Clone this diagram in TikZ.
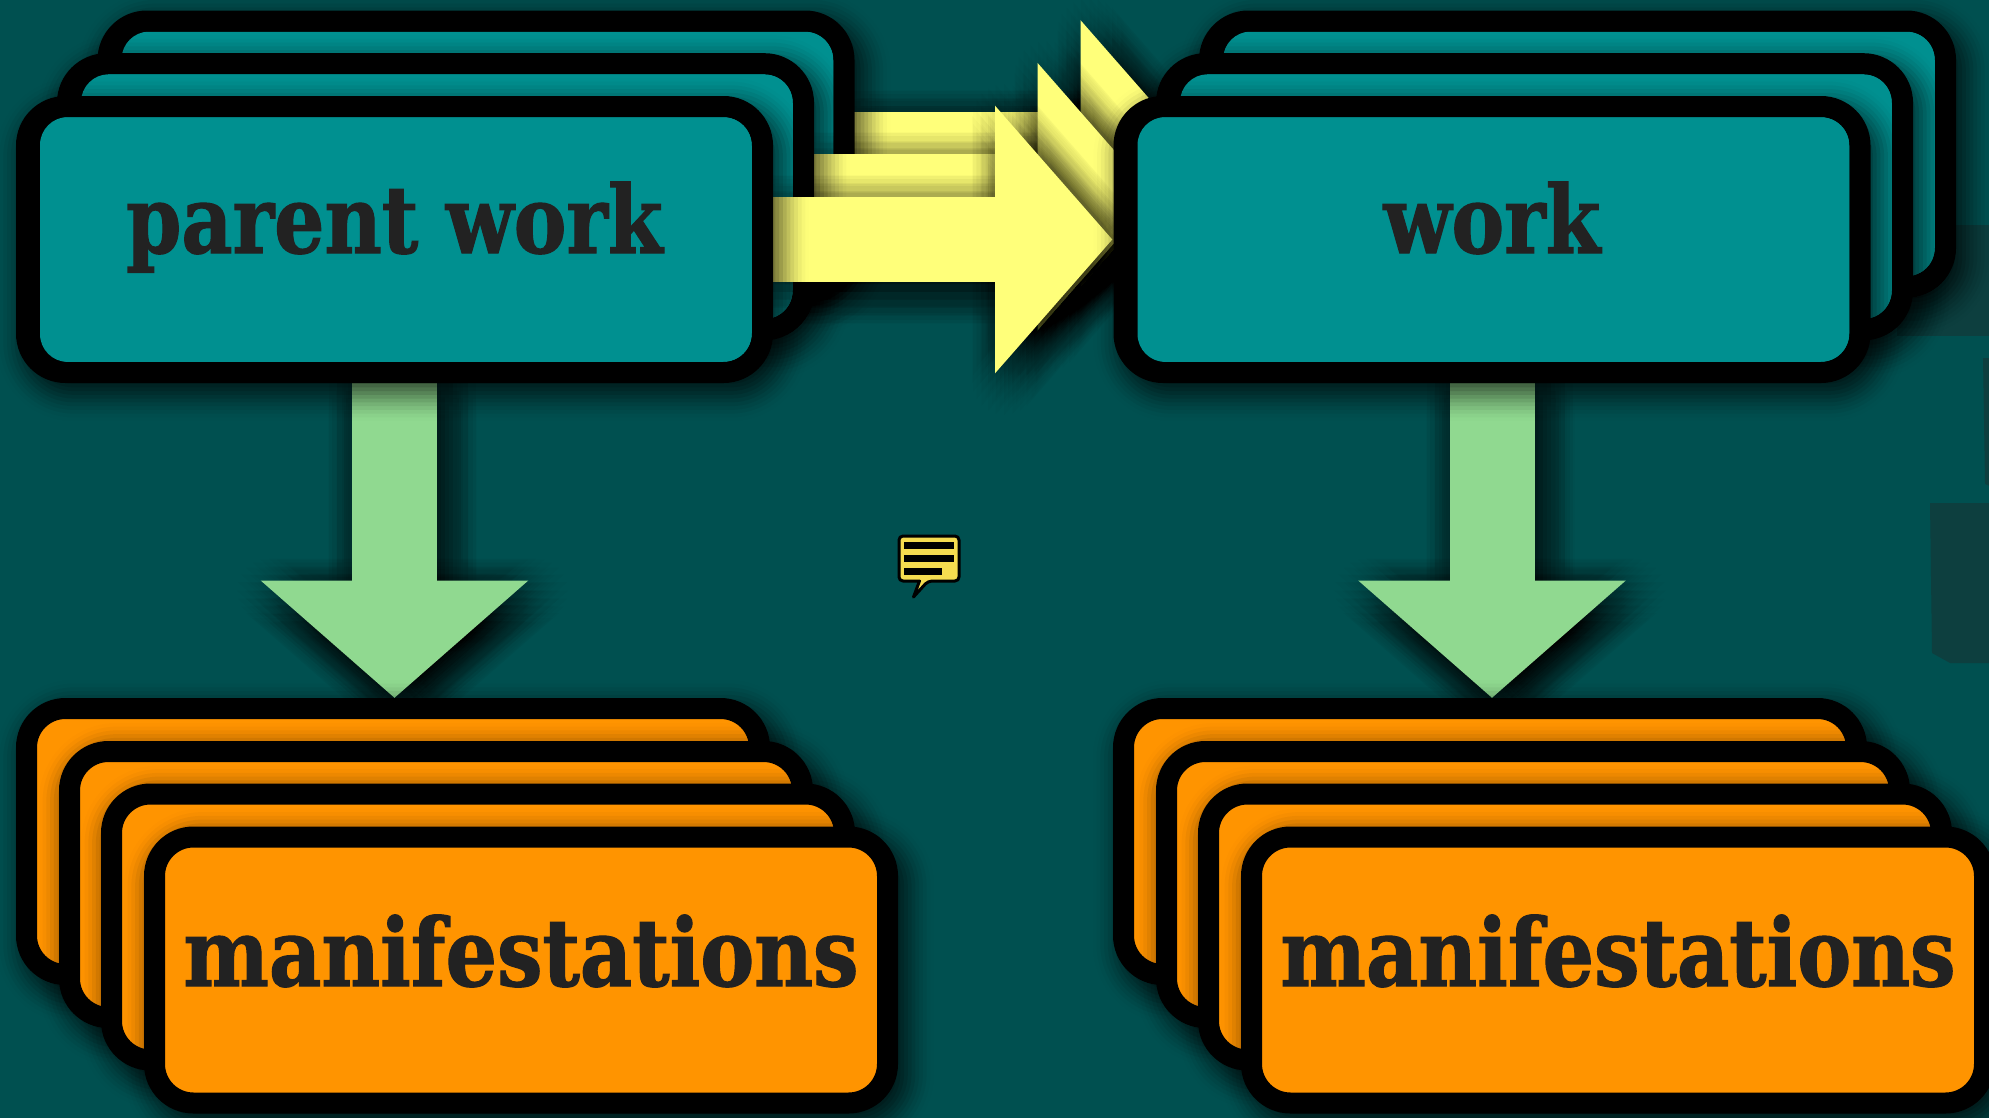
\documentclass[tikz,border=0pt]{standalone}
\usepackage{fontspec}
\usetikzlibrary{arrows.meta}
\newfontfamily\labfont[FakeStretch=0.86,BoldFeatures={FakeBold=1.2}]{DejaVu Serif}
\newfontfamily\labfontb[FakeStretch=0.84,BoldFeatures={FakeBold=1.2}]{DejaVu Serif}
\definecolor{bgc}{HTML}{005050}
\definecolor{patchc}{HTML}{0D3F3F}
\definecolor{tealc}{HTML}{009090}
\definecolor{orangec}{HTML}{FF9400}
\definecolor{yelc}{HTML}{FFFF7A}
\definecolor{greenc}{HTML}{90D990}
\definecolor{txtc}{HTML}{222222}
\definecolor{iconc}{HTML}{F5DC50}
\pgfdeclarelayer{lgreen}\pgfdeclarelayer{lmani}
\pgfdeclarelayer{la3}\pgfdeclarelayer{lb3}
\pgfdeclarelayer{la2}\pgfdeclarelayer{lb2}
\pgfdeclarelayer{la1}\pgfdeclarelayer{lb1}
\pgfsetlayers{lgreen,lmani,la3,lb3,la2,lb2,la1,lb1,main}
\tikzset{
  stackbox/.style={draw=black,line width=21pt,rounded corners=39pt,minimum height=266pt,inner sep=0pt,
     text=txtc,align=center},
  workbox/.style={stackbox,fill=black,minimum width=736pt,text height=49pt,text depth=22pt,font=\labfontb\bfseries\fontsize{94}{94}\selectfont,
     path picture={\fill[tealc,rounded corners=28pt] ([shift={(13.5pt,-10.5pt)}]path picture bounding box.north west) rectangle ([shift={(-10.5pt,10.5pt)}]path picture bounding box.south east);}},
  manibox/.style={stackbox,fill=orangec,minimum width=733pt,text height=52pt,text depth=20pt,font=\labfont\bfseries\fontsize{94}{94}\selectfont},
  yelarrow/.style={line width=85pt,draw=yelc,shorten <=-10pt,shorten >=1pt,-{Triangle[length=117.5pt,width=261pt,fill=yelc]}},
  grnarrow/.style={line width=85pt,draw=greenc,shorten <=-10pt,-{Triangle[length=117.5pt,width=261pt,fill=greenc]}},
  shadarrow/.style={line width=85pt,draw=black,opacity=0.02,shorten <=-10pt,-{Triangle[length=117.5pt,width=261pt,fill=black]}},
}
% a box of a stack, with its soft shadow: style, half width, name, x, y, text
\newcommand{\stackitem}[6]{%
  \foreach \k in {1,...,16}{%
    \pgfmathsetmacro{\xa}{\k/16}%
    \pgfmathsetmacro{\xb}{(\k-1)/16}%
    \pgfmathsetmacro{\ta}{1-0.75*\xa*\xa*(3-2*\xa)}%
    \pgfmathsetmacro{\tb}{1-0.75*\xb*\xb*(3-2*\xb)}%
    \pgfmathsetmacro{\al}{1-\ta/\tb}%
    \pgfmathsetmacro{\e}{30-60*(\k-0.5)/16}%
    \pgfmathsetmacro{\rad}{max(50+\e,4)}%
    \fill[black,opacity=\al,rounded corners=\rad pt]
      ({#4+8-#2-\e},{#5+10-143.5-\e}) rectangle ({#4+8+#2+\e},{#5+10+143.5+\e});
  }%
  \node[#1] (#3) at (#4,#5) {#6};}
% soft arrow shadow: start and end
\newcommand{\arrowshadow}[2]{%
  \draw[shadarrow] ([shift={(8,10)}]#1) -- ([shift={(8,10)}]#2);
  \foreach \rr/\nn in {8/6,16/12,24/18,32/24}{%
    \foreach \i in {1,...,\nn}{%
      \pgfmathsetmacro{\aa}{360*\i/\nn}%
      \draw[shadarrow] ([shift={({8+\rr*cos(\aa)},{10+\rr*sin(\aa)})}]#1) -- ([shift={({8+\rr*cos(\aa)},{10+\rr*sin(\aa)})}]#2);
    }}}
\begin{document}
\begin{tikzpicture}[x=1pt,y=-1pt]
\useasboundingbox (0,0) rectangle (1989,1117);
\begin{pgfonlayer}{lgreen}
\fill[bgc] (-3,-3) rectangle (1992,1120);
\fill[patchc] (1897,336) -- (1897,225) -- (1992,225) -- (1992,336) -- cycle;
\fill[patchc] (1983,358) -- (1992,358) -- (1992,487) -- (1985,484) -- cycle;
\fill[patchc] (1930,503) -- (1992,503) -- (1992,663) -- (1950,663) -- (1932,653) -- cycle;
\end{pgfonlayer}
% manifestations
\begin{pgfonlayer}{lmani}
\stackitem{manibox}{377}{ma1}{393}{841.5}{}
\stackitem{manibox}{377}{ma2}{436}{884.5}{}
\stackitem{manibox}{377}{ma3}{478}{927}{}
\stackitem{manibox}{377}{ma4}{521}{970}{manifestations}
\stackitem{manibox}{377}{mb1}{1490}{841.5}{}
\stackitem{manibox}{377}{mb2}{1533}{884.5}{}
\stackitem{manibox}{377}{mb3}{1575}{927}{}
\stackitem{manibox}{377}{mb4}{1618}{970}{manifestations}
\end{pgfonlayer}
% parent work stack
\begin{pgfonlayer}{lb3}\stackitem{workbox}{378.5}{p3}{476}{154}{}\end{pgfonlayer}
\begin{pgfonlayer}{lb2}\stackitem{workbox}{378.5}{p2}{435.5}{196.7}{}\end{pgfonlayer}
\begin{pgfonlayer}{lb1}
\stackitem{workbox}{378.5}{p1}{394.5}{239.5}{parent work}
\end{pgfonlayer}
% work stack
\stackitem{workbox}{378.5}{w3}{1577.5}{154}{}
\stackitem{workbox}{378.5}{w2}{1534.5}{196.7}{}
\stackitem{workbox}{378.5}{w1}{1492}{239.5}{work}
% connectors
\begin{pgfonlayer}{lgreen}
\arrowshadow{p1.south}{p1.south |- ma1.north}
\arrowshadow{w1.south}{w1.south |- mb1.north}
\draw[grnarrow] (p1.south) -- (p1.south |- ma1.north);
\draw[grnarrow] (w1.south) -- (w1.south |- mb1.north);
\end{pgfonlayer}
\begin{pgfonlayer}{la3}
\arrowshadow{p3.east}{w3.west}
\draw[yelarrow] (p3.east) -- (w3.west);
\end{pgfonlayer}
\begin{pgfonlayer}{la2}
\arrowshadow{p2.east}{w2.west}
\draw[yelarrow] (p2.east) -- (w2.west);
\end{pgfonlayer}
\begin{pgfonlayer}{la1}
\arrowshadow{p1.east}{w1.west}
\draw[yelarrow] (p1.east) -- (w1.west);
\end{pgfonlayer}
% comment icon
\draw[black,line width=3pt,line join=round,fill=iconc,rounded corners=4pt]
  (899,536) -- (959,536) -- (959,581) -- (928,581) [sharp corners] -- (913.5,597) -- (919.5,581) [rounded corners=4pt] -- (899,581) -- cycle;
\fill[black] (904.3,542) rectangle (954.3,549);
\fill[black] (904.3,555) rectangle (954.3,562.3);
\fill[black] (904.3,568) rectangle (941.7,575);
\end{tikzpicture}
\end{document}
